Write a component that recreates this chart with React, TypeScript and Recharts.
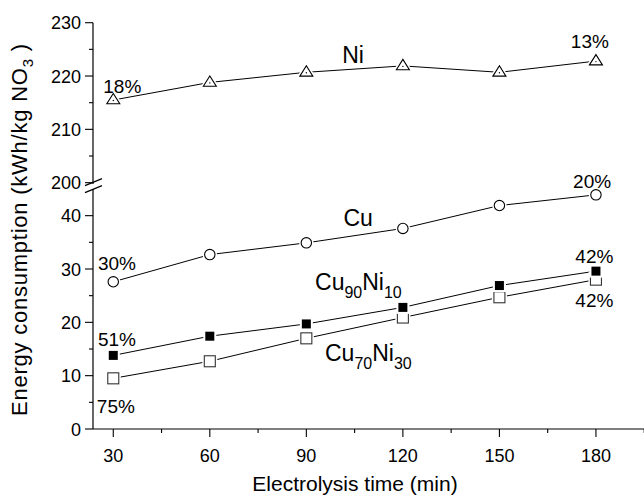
import React from 'react';
import { LineChart, Line, XAxis, YAxis, ReferenceDot, Label } from 'recharts';

// ---------------- data ----------------
const times = [30, 60, 90, 120, 150, 180];
const niValues = [215.5, 218.8, 220.7, 221.9, 220.7, 222.8];
const cuValues = [27.6, 32.7, 34.9, 37.6, 41.9, 43.9];
const cu90ni10Values = [13.8, 17.4, 19.7, 22.8, 26.9, 29.6];
const cu70ni30Values = [9.5, 12.7, 17.0, 20.9, 24.7, 28.0];

const xTicks = [30, 45, 60, 75, 90, 105, 120, 135, 150, 165, 180, 195];
const xMajorTicks = [30, 60, 90, 120, 150, 180];
const upperTicks = [200, 205, 210, 215, 220, 225, 230];
const upperMajorTicks = [200, 210, 220, 230];
const lowerTicks = [0, 5, 10, 15, 20, 25, 30, 35, 40];
const lowerMajorTicks = [0, 10, 20, 30, 40];

const xTitle = 'Electrolysis time (min)';
const yTitleMain = 'Energy consumption (kWh/kg NO';
const yTitleSub = '3';
const yTitleEnd = ' )';

// annotations: [time, value, parts]; parts: [text, isSubscript]
const upperNotes: { t: number; v: number; parts: [string, boolean][]; big?: boolean }[] = [
  { t: 32.8, v: 216.8, parts: [['18%', false]] },
  { t: 178.1, v: 225.2, parts: [['13%', false]] },
  { t: 104.5, v: 222.4, parts: [['Ni', false]], big: true },
];
const lowerNotes: { t: number; v: number; parts: [string, boolean][]; big?: boolean; start?: boolean }[] = [
  { t: 106.1, v: 38.0, parts: [['Cu', false]], big: true },
  { t: 178.8, v: 45.2, parts: [['20%', false]] },
  { t: 31.15, v: 29.9, parts: [['30%', false]] },
  { t: 31.15, v: 15.5, parts: [['51%', false]] },
  { t: 30.8, v: 3.0, parts: [['75%', false]] },
  { t: 179.5, v: 31.2, parts: [['42%', false]] },
  { t: 179.5, v: 22.8, parts: [['42%', false]] },
  { t: 92.7, v: 26.0, parts: [['Cu', false], ['90', true], ['Ni', false], ['10', true]], big: true, start: true },
  { t: 95.8, v: 12.7, parts: [['Cu', false], ['70', true], ['Ni', false], ['30', true]], big: true, start: true },
];

const upperData = times.map((t, i) => ({ t, ni: niValues[i] }));
const lowerData = times.map((t, i) => ({
  t,
  cu: cuValues[i],
  cu90: cu90ni10Values[i],
  cu70: cu70ni30Values[i],
}));

// ---------------- styles ----------------
const FONT = '"Liberation Sans", Arial, Helvetica, sans-serif';
const CHART_W = 660;
const X_DOMAIN: [number, number] = [23.7, 196.3];
const RIGHT_M = 11.6;

const YTick = (majors: number[], breakMark: boolean) => (props: any) => {
  const { x, y, payload } = props;
  const major = majors.includes(payload.value);
  return (
    <g>
      <line x1={x - (major ? 8 : 4)} y1={y} x2={x} y2={y} stroke="#000" strokeWidth={1.1} />
      {major && (
        <text x={x - 12} y={y + 6.5} textAnchor="end" fontSize={18} fontFamily={FONT} fill="#000">
          {payload.value}
        </text>
      )}
      {breakMark && payload.value === 200 && (
        <g stroke="#000" strokeWidth={1.2}>
          <line x1={x - 8} y1={y + 3} x2={x + 9} y2={y - 4} />
          <line x1={x - 8} y1={y + 10} x2={x + 9} y2={y + 3} />
        </g>
      )}
    </g>
  );
};

const XTick = (props: any) => {
  const { x, y, payload } = props;
  const major = xMajorTicks.includes(payload.value);
  return (
    <g>
      <line x1={x} y1={y} x2={x} y2={y + (major ? 8 : 4)} stroke="#000" strokeWidth={1.1} />
      {major && (
        <text x={x} y={y + 32.5} textAnchor="middle" fontSize={18} fontFamily={FONT} fill="#000">
          {payload.value}
        </text>
      )}
    </g>
  );
};

const TriangleDot = (p: any) => {
  const { cx, cy } = p;
  const d = `M${cx - 6.5},${cy + 3.8} L${cx},${cy - 6.5} L${cx + 6.5},${cy + 3.8} Z`;
  return (
    <g key={`tri-${p.index}`}>
      <path d={d} fill="#fff" stroke="#fff" strokeWidth={4} />
      <path d={d} fill="#fff" stroke="#000" strokeWidth={1.1} />
      <circle cx={cx} cy={cy + 0.5} r={0.7} fill="#000" />
    </g>
  );
};

const CircleDot = (p: any) => {
  const { cx, cy } = p;
  return (
    <g key={`cir-${p.index}`}>
      <circle cx={cx} cy={cy} r={5.2} fill="#fff" stroke="#fff" strokeWidth={4} />
      <circle cx={cx} cy={cy} r={5.2} fill="#fff" stroke="#000" strokeWidth={1.1} />
    </g>
  );
};

const FilledSquare = (p: any) => {
  const { cx, cy } = p;
  return (
    <g key={`fsq-${p.index}`}>
      <rect x={cx - 6.5} y={cy - 6.5} width={13} height={13} fill="#fff" />
      <rect x={cx - 4.5} y={cy - 4.5} width={9} height={9} fill="#000" />
    </g>
  );
};

const OpenSquare = (p: any) => {
  const { cx, cy } = p;
  return (
    <g key={`osq-${p.index}`}>
      <rect x={cx - 5.5} y={cy - 5.5} width={11} height={11} fill="#fff" stroke="#fff" strokeWidth={4} />
      <rect x={cx - 5.5} y={cy - 5.5} width={11} height={11} fill="#fff" stroke="#333" strokeWidth={1.1} />
    </g>
  );
};

const noteContent = (parts: [string, boolean][], big?: boolean, start?: boolean) => (props: any) => {
  const vb = props.viewBox || {};
  const x = (vb.x ?? 0) + (vb.width ?? 0) / 2;
  const y = (vb.y ?? 0) + (vb.height ?? 0) / 2;
  const main = big ? 23 : 19;
  let prevSub = false;
  return (
    <text x={x} y={y} textAnchor={start ? 'start' : 'middle'} fontSize={main} fontFamily={FONT} fill="#000">
      {parts.map(([txt, sub], i) => {
        const dy = sub && !prevSub ? 8 : !sub && prevSub ? -8 : 0;
        prevSub = sub;
        return (
          <tspan key={i} dy={dy} fontSize={sub ? 16 : main}>
            {txt}
          </tspan>
        );
      })}
    </text>
  );
};

const renderNotes = (notes: typeof lowerNotes, prefix: string) =>
  notes.map((n, i) => (
    <ReferenceDot
      key={`${prefix}-${i}`}
      x={n.t}
      y={n.v}
      r={0}
      fill="none"
      stroke="none"
      ifOverflow="visible"
    >
      <Label content={noteContent(n.parts, n.big, n.start)} />
    </ReferenceDot>
  ));

const YTitle = () => (
  <text
    x={27}
    y={230}
    transform="rotate(-90, 27, 230)"
    textAnchor="middle"
    fontSize={22}
    fontFamily={FONT}
    fill="#000"
    textLength={372}
    lengthAdjust="spacing"
  >
    {yTitleMain}
    <tspan fontSize={15} dy={6}>
      {yTitleSub}
    </tspan>
    <tspan dy={-6}>{yTitleEnd}</tspan>
  </text>
);

export default function App() {
  return (
    <div
      style={{
        position: 'absolute',
        left: 0,
        top: 0,
        width: 644,
        height: 495,
        overflow: 'hidden',
        background: '#fff',
      }}
    >
      <div style={{ position: 'absolute', left: 0, top: 0 }}>
        <LineChart
          width={CHART_W}
          height={495}
          data={lowerData}
          margin={{ top: 189, right: RIGHT_M, bottom: 0, left: 0 }}
        >
          <XAxis
            dataKey="t"
            type="number"
            domain={X_DOMAIN}
            allowDataOverflow
            ticks={xTicks}
            interval={0}
            tick={XTick}
            tickLine={false}
            tickSize={0}
            tickMargin={0}
            height={66}
            axisLine={{ stroke: '#000', strokeWidth: 1.2 }}
          >
            <Label
              content={() => (
                <text x={355} y={491} textAnchor="middle" fontSize={21} fontFamily={FONT} fill="#000">
                  {xTitle}
                </text>
              )}
            />
          </XAxis>
          <YAxis
            type="number"
            domain={[0, 45]}
            allowDataOverflow
            ticks={lowerTicks}
            interval={0}
            tick={YTick(lowerMajorTicks, false)}
            tickLine={false}
            tickSize={0}
            tickMargin={0}
            width={93}
            axisLine={{ stroke: '#000', strokeWidth: 1.2 }}
          >
            <Label content={() => <YTitle />} />
          </YAxis>
          <Line
            dataKey="cu"
            type="linear"
            stroke="#000"
            strokeWidth={1}
            dot={CircleDot}
            activeDot={false}
            isAnimationActive={false}
          />
          <Line
            dataKey="cu70"
            type="linear"
            stroke="#000"
            strokeWidth={1}
            dot={OpenSquare}
            activeDot={false}
            isAnimationActive={false}
          />
          <Line
            dataKey="cu90"
            type="linear"
            stroke="#000"
            strokeWidth={1}
            dot={FilledSquare}
            activeDot={false}
            isAnimationActive={false}
          />
          {renderNotes(lowerNotes, 'ln')}
        </LineChart>
      </div>
      <div style={{ position: 'absolute', left: 0, top: 0 }}>
        <LineChart
          width={CHART_W}
          height={200}
          data={upperData}
          margin={{ top: 22.7, right: RIGHT_M, bottom: 16, left: 0 }}
        >
          <XAxis dataKey="t" type="number" domain={X_DOMAIN} allowDataOverflow hide />
          <YAxis
            type="number"
            domain={[199.75, 230]}
            allowDataOverflow
            ticks={upperTicks}
            interval={0}
            tick={YTick(upperMajorTicks, true)}
            tickLine={false}
            tickSize={0}
            tickMargin={0}
            width={93}
            axisLine={{ stroke: '#000', strokeWidth: 1.2 }}
          />
          <Line
            dataKey="ni"
            type="linear"
            stroke="#000"
            strokeWidth={1}
            dot={TriangleDot}
            activeDot={false}
            isAnimationActive={false}
          />
          {renderNotes(upperNotes as any, 'un')}
        </LineChart>
      </div>
    </div>
  );
}
